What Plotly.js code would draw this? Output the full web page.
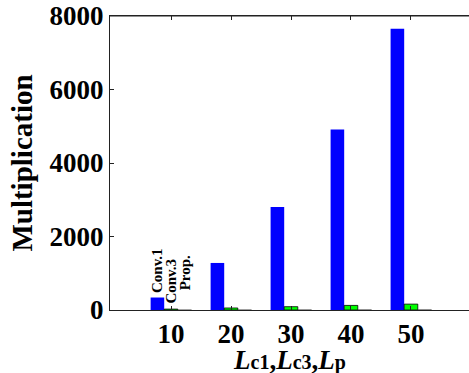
<!DOCTYPE html>
<html>
<head>
<meta charset="utf-8">
<script src="https://cdn.plot.ly/plotly-3.0.1.min.js"></script>
<style>html,body{margin:0;padding:0;overflow:hidden;background:#fff;}</style>
</head>
<body>
<div id="chart" style="width:469px;height:373px;"></div>
<script>
const categories = ['10', '20', '30', '40', '50'];
const conv1 = [340, 1280, 2800, 4910, 7650];
const conv3 = [25, 55, 90, 125, 160];
const prop = [6, 8, 10, 12, 14];
const seriesNames = ['Conv.1', 'Conv.3', 'Prop.'];
const yTicks = [0, 2000, 4000, 6000, 8000];

const serif = 'Liberation Serif, Times New Roman, serif';

function barTrace(name, y, fill, lineW) {
  return {
    type: 'bar', name: name, x: categories, y: y,
    marker: {color: fill, line: {color: '#000', width: lineW}},
    hoverinfo: 'none'
  };
}

const data = [
  barTrace(seriesNames[0], conv1, '#0000ff', 0),
  barTrace(seriesNames[1], conv3, '#00ff00', 0.8),
  barTrace(seriesNames[2], prop, '#dddddd', 0.3)
];

const seriesVals = [conv1, conv3, prop];
const xShifts = [-14, 0, 14];
const yShifts = [3, 4, 18];
const labelAnns = seriesNames.map((n, i) => ({
  xref: 'x', yref: 'y', x: 0, y: seriesVals[i][0],
  xshift: xShifts[i], yshift: yShifts[i],
  xanchor: 'center', yanchor: 'bottom', textangle: -90,
  showarrow: false, text: '<b>' + n + '</b>', borderpad: 0,
  font: {family: serif, size: 15, color: '#000'}
}));

const sub = s => '<span style="font-size:20px">' + s + '</span>';

const layout = {
  width: 469, height: 373,
  margin: {l: 110, r: 0, t: 16, b: 63},
  paper_bgcolor: '#fff', plot_bgcolor: '#fff',
  showlegend: false,
  barmode: 'group', bargap: 0.32, bargroupgap: 0,
  font: {family: serif, color: '#000'},
  xaxis: {
    type: 'category', range: [-1.017, 4.967],
    showgrid: false, zeroline: false,
    showline: true, linecolor: '#222', linewidth: 1, mirror: 'ticks',
    ticks: 'inside', ticklen: 4, tickcolor: '#222',
    tickfont: {family: serif, size: 27, weight: 'bold', color: '#000'}
  },
  yaxis: {
    range: [0, 8000], tickvals: yTicks, ticktext: yTicks.map(String),
    showgrid: false, zeroline: false,
    showline: true, linecolor: '#222', linewidth: 1, mirror: false,
    ticks: 'inside', ticklen: 4, tickcolor: '#222',
    tickfont: {family: serif, size: 27, weight: 'bold', color: '#000'},
    title: {text: 'Multiplication', font: {family: serif, size: 29, weight: 'bold', color: '#000'}, standoff: 8}
  },
  annotations: labelAnns.concat([{
    xref: 'paper', yref: 'paper', x: 0.5, y: 0, yshift: -34,
    xanchor: 'center', yanchor: 'top', showarrow: false, borderpad: 0,
    text: '<b><i>L</i>' + sub('c1') + ',<i>L</i>' + sub('c3') + ',<i>L</i>' + sub('p') + '</b>',
    font: {family: serif, size: 27, color: '#000'}
  }]),
  shapes: [{
    type: 'line', xref: 'paper', yref: 'paper', x0: 0, x1: 1, y0: 1, y1: 1,
    line: {color: '#222', width: 1}
  }]
};

Plotly.newPlot('chart', data, layout, {displayModeBar: false, staticPlot: true});
</script>
</body>
</html>
